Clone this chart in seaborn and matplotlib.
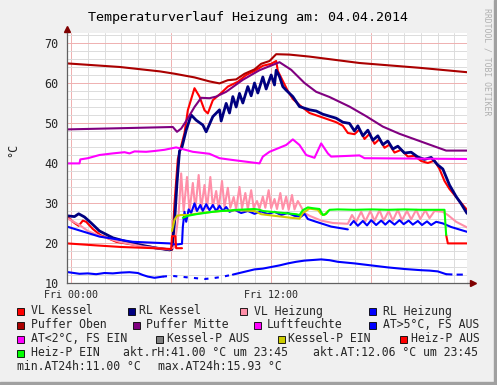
import matplotlib
matplotlib.use("Agg")
import matplotlib.pyplot as plt
from matplotlib.patches import Rectangle
import seaborn as sns

# hours since Fri 00:00 and temperatures
vl_kessel_h = [-0.25, 0.2, 0.45, 0.7, 0.9, 1.3, 1.75, 2.7, 4.0, 4.7, 5.9, 6.05, 6.2, 6.4, 6.8, 7.0, 7.4, 7.7, 8.0,
               8.2, 8.5, 9.0, 9.4, 10.0, 10.5, 11.0, 11.5, 12.0, 12.3, 12.4, 12.7, 13.0, 13.3, 13.7, 14.3, 15.0,
               15.9, 16.3, 16.6, 17.0, 17.3, 17.6, 17.9, 18.2, 18.5, 18.8, 19.1, 19.4, 19.8, 20.2, 20.6, 21.0,
               21.4, 21.8, 22.1, 22.4, 22.7, 23.1, 23.4, 23.75]
vl_kessel = [26.6, 25.0, 24.3, 25.6, 25.3, 23.5, 22.0, 20.3, 19.4, 19.1, 18.2, 18.3, 30.0, 41.0, 47.5, 53.2, 58.7,
             56.6, 53.2, 52.4, 55.7, 57.5, 59.1, 60.3, 62.0, 63.0, 64.3, 64.8, 65.5, 63.0, 60.5, 58.0, 56.0, 54.5,
             52.5, 51.5, 50.2, 49.3, 47.5, 47.2, 48.4, 46.0, 47.3, 44.8, 46.0, 43.8, 44.6, 42.6, 43.3, 41.6, 41.8,
             40.5, 40.0, 40.6, 38.5, 35.5, 33.5, 31.5, 30.0, 28.3]

rl_kessel_h = [-0.25, 0.2, 0.45, 0.8, 1.2, 1.7, 2.5, 3.7, 5.0, 5.9, 6.05, 6.2, 6.35, 6.5, 6.65, 6.9, 7.2, 7.5, 7.9,
               8.1, 8.5, 8.9, 9.0, 9.3, 9.5, 9.7, 9.9, 10.1, 10.3, 10.6, 10.8, 11.0, 11.2, 11.5, 11.7, 12.0, 12.2,
               12.3, 12.5, 12.7, 12.9, 13.3, 13.7, 14.3, 14.7, 15.1, 15.9, 16.3, 16.7, 17.0, 17.2, 17.5, 17.8,
               18.1, 18.4, 18.7, 19.0, 19.3, 19.6, 20.0, 20.4, 20.8, 21.2, 21.6, 22.0, 22.3, 22.7, 23.1, 23.4, 23.75]
rl_kessel = [26.8, 26.6, 27.3, 26.5, 25.0, 23.0, 21.3, 19.9, 18.8, 18.3, 18.5, 25.0, 35.0, 43.0, 44.0, 48.2, 52.0,
             50.7, 49.5, 47.8, 51.6, 53.3, 50.5, 54.9, 52.5, 56.6, 54.0, 57.4, 55.0, 59.1, 56.8, 60.0, 57.5, 61.5,
             58.5, 62.0, 59.5, 63.2, 61.6, 59.1, 58.2, 56.6, 54.1, 53.3, 53.0, 52.2, 51.2, 50.2, 49.9, 48.0, 49.3,
             46.8, 48.2, 45.7, 46.8, 44.6, 45.5, 43.5, 44.2, 42.5, 42.7, 41.5, 40.9, 41.4, 39.5, 38.5, 34.5, 31.6,
             29.8, 27.4]

vl_heizung_h = [-0.25, 0.5, 1.0, 1.7, 2.9, 4.3, 5.9, 6.2, 6.45, 6.6, 6.75, 6.95, 7.1, 7.3, 7.45, 7.65, 7.8, 8.0,
                8.15, 8.35, 8.5, 8.7, 8.85, 9.05, 9.2, 9.4, 9.55, 9.75, 9.9, 10.1, 10.25, 10.45, 10.6, 10.8, 10.95,
                11.15, 11.3, 11.5, 11.65, 11.85, 12.0, 12.2, 12.35, 12.55, 12.7, 12.9, 13.05, 13.25, 13.4, 13.6,
                13.8, 14.0, 14.3, 15.0, 15.7, 16.6, 16.85, 17.1, 17.4, 17.65, 17.95, 18.2, 18.5, 18.75, 19.05, 19.3,
                19.6, 19.85, 20.15, 20.4, 20.7, 20.95, 21.25, 21.5, 21.8, 22.3, 22.6, 23.1, 23.75]
vl_heizung = [26.2, 24.5, 23.0, 21.8, 20.3, 19.1, 18.4, 19.0, 27.5, 37.4, 28.0, 36.5, 27.8, 35.0, 28.3, 37.0, 28.5,
              34.5, 28.6, 36.5, 29.0, 33.0, 28.5, 35.5, 29.0, 33.8, 28.8, 31.5, 28.5, 34.0, 28.7, 32.5, 28.5, 33.2,
              28.8, 30.5, 28.6, 31.6, 28.8, 33.2, 28.7, 31.0, 28.5, 32.5, 28.5, 31.6, 28.3, 32.0, 28.4, 30.5, 29.0,
              27.5, 26.8, 25.6, 25.0, 24.8, 27.0, 25.3, 27.8, 25.4, 28.0, 25.5, 28.2, 25.6, 28.0, 25.6, 28.3, 25.7,
              28.0, 25.9, 28.3, 26.0, 28.2, 26.2, 28.0, 27.8, 27.0, 25.3, 23.9]

rl_heizung_h = [-0.25, 1.0, 1.7, 3.7, 5.9, 6.3, 6.65, 6.7, 6.8, 6.9, 7.05, 7.2, 7.4, 7.55, 7.75, 7.9, 8.1, 8.3, 8.5,
                8.7, 8.9, 9.1, 9.3, 9.5, 9.8, 10.2, 10.6, 11.0, 11.4, 11.8, 12.2, 12.6, 13.0, 13.4, 13.8, 14.0,
                14.2, 14.7, 15.6, 16.6]
rl_heizung = [24.1, 22.5, 21.6, 20.3, 19.9, 19.6, 19.8, 24.0, 27.8, 25.3, 28.4, 27.5, 29.9, 28.0, 29.5, 28.0, 29.7,
              28.2, 29.5, 28.0, 29.3, 28.0, 29.0, 27.8, 28.3, 27.5, 28.0, 27.3, 27.9, 27.2, 27.8, 27.0, 27.5, 26.8,
              26.6, 27.3, 26.0, 25.3, 24.1, 23.4]
rl_heizung2_h = [16.75, 16.95, 17.2, 17.5, 17.75, 18.0, 18.3, 18.6, 18.85, 19.1, 19.4, 19.7, 19.95, 20.25, 20.5,
                 20.8, 21.05, 21.35, 21.6, 21.9, 22.3, 22.8, 23.75]
rl_heizung2 = [24.5, 25.5, 24.3, 25.5, 24.4, 25.7, 24.5, 25.6, 24.6, 25.6, 24.6, 25.7, 24.7, 25.6, 24.6, 25.5, 24.5,
               25.4, 24.5, 25.3, 24.9, 24.0, 22.8]

puffer_oben_h = [-0.25, 2.93, 5.33, 6.23, 7.4, 8.3, 8.9, 9.4, 9.9, 10.4, 11.0, 11.4, 11.9, 12.3, 13.1, 14.3, 17.3,
                 20.9, 23.75]
puffer_oben = [64.9, 64.0, 62.9, 62.3, 61.4, 60.4, 59.9, 60.7, 60.9, 62.3, 63.4, 64.8, 65.5, 67.2, 67.1, 66.6, 65.0,
               63.8, 62.7]

puffer_mitte_h = [-0.25, 3.0, 6.1, 6.35, 6.6, 6.9, 7.4, 7.8, 8.3, 8.7, 9.3, 10.3, 11.3, 12.5, 13.2, 14.0, 14.7,
                  15.5, 16.7, 17.7, 18.7, 19.7, 20.7, 21.7, 22.5, 23.75]
puffer_mitte = [48.4, 48.7, 49.0, 47.8, 48.6, 50.5, 54.0, 56.3, 56.2, 56.6, 57.8, 60.8, 63.2, 65.2, 63.3, 60.0, 57.8,
                56.5, 54.1, 51.7, 49.1, 47.3, 45.8, 44.3, 43.1, 43.1]

luft_h = [-0.25, 0.5, 0.55, 1.0, 1.7, 2.5, 3.2, 3.5, 3.8, 4.5, 5.0, 5.6, 6.3, 7.3, 8.3, 8.9, 9.6, 11.3, 11.5, 11.9,
          12.9, 13.3, 13.7, 14.1, 14.6, 15.0, 15.4, 15.6, 17.3, 17.6, 23.75]
luft = [39.9, 39.9, 40.9, 41.2, 42.0, 42.4, 42.7, 42.4, 42.9, 42.8, 43.0, 43.3, 43.9, 42.8, 42.3, 41.2, 40.8, 39.9,
        41.6, 42.8, 44.5, 45.9, 44.5, 42.0, 41.3, 44.9, 42.4, 41.6, 41.9, 41.2, 41.0]

at_h = [-0.25, 0.5, 1.0, 1.5, 2.0, 2.5, 3.0, 3.5, 4.0, 4.3, 4.6, 5.0, 5.5, 6.0, 6.5, 7.0, 7.5, 8.0, 8.5, 9.0, 9.7,
        10.0, 10.5, 11.0, 11.5, 12.0, 12.5, 13.0, 13.5, 14.0, 15.0, 15.5, 16.0, 17.0, 18.0, 19.0, 20.0, 21.0, 21.5,
        22.0, 22.5, 23.0, 23.75]
at = [12.75, 12.3, 12.4, 12.2, 12.5, 12.4, 12.6, 12.7, 12.5, 12.0, 11.6, 11.3, 11.6, 11.8, 11.6, 11.4, 11.2, 11.0,
      11.2, 11.5, 12.1, 12.4, 12.9, 13.4, 13.6, 14.0, 14.4, 14.9, 15.3, 15.6, 15.9, 15.7, 15.3, 14.9, 14.4, 13.9,
      13.5, 13.2, 13.1, 12.9, 12.2, 12.1, 12.1]

kessel_ein_h = [6.05, 6.2, 6.35, 6.6, 7.0, 8.0, 9.0, 10.0, 11.0, 11.4, 12.0, 12.6, 13.2, 13.7, 13.9, 14.3, 14.8,
                15.0, 15.2, 15.4]
kessel_ein = [23.0, 25.8, 26.8, 27.0, 27.0, 27.6, 28.0, 28.2, 28.0, 27.2, 26.9, 26.6, 26.3, 26.1, 27.5, 28.6, 28.3,
              27.2, 27.0, 28.0]

heiz_aus_h = [-0.25, 1.5, 3.0, 5.0, 6.0, 6.05, 6.25, 6.3, 6.65]
heiz_aus = [19.9, 19.4, 19.0, 18.7, 18.5, 21.7, 21.7, 18.7, 18.7]
heiz_aus2_h = [22.5, 22.6, 23.75]
heiz_aus2 = [22.0, 19.9, 19.9]

heiz_ein_h = [6.7, 7.0, 7.5, 8.0, 8.5, 9.0, 9.5, 10.0, 10.5, 11.0, 11.3, 11.5, 12.0, 12.5, 13.0, 13.5, 13.7, 13.9,
              14.2, 14.5, 14.9, 15.1, 15.3, 15.5, 16.0, 17.0, 18.0, 19.0, 20.0, 21.0, 22.0, 22.4, 22.45, 22.5]
heiz_ein = [26.3, 26.8, 27.2, 27.5, 27.8, 28.0, 28.1, 28.3, 28.4, 28.5, 28.3, 28.0, 27.8, 27.6, 27.4, 27.2, 27.0,
            28.2, 28.9, 28.7, 28.5, 27.0, 27.3, 28.3, 28.4, 28.3, 28.4, 28.3, 28.4, 28.3, 28.3, 28.3, 25.0, 22.0]

legend_rows = [
    [("VL Kessel", "#ff0000", 17, 31), ("RL Kessel", "#000080", 128, 139),
     ("VL Heizung", "#ff8fa8", 240, 254), ("RL Heizung", "#0000ff", 369, 383)],
    [("Puffer Oben", "#aa0000", 17, 31), ("Puffer Mitte", "#800080", 133, 146),
     ("Luftfeuchte", "#ff00ff", 254, 267), ("AT>5°C, FS AUS", "#0000ff", 369, 383)],
    [("AT<2°C, FS EIN", "#ff00ff", 17, 31), ("Kessel-P AUS", "#808080", 156, 167),
     ("Kessel-P EIN", "#cccc00", 278, 288), ("Heiz-P AUS", "#ff0000", 400, 411)],
    [("Heiz-P EIN", "#00ff00", 17, 31)],
]
info_texts = [("akt.rH:41.00 °C um 23:45", 123, 353), ("akt.AT:12.06 °C um 23:45", 313, 353),
              ("min.AT24h:11.00 °C", 17, 367), ("max.AT24h:15.93 °C", 158, 367)]
row_y = [311, 325, 339, 353]

W, H = 497, 385
sns.set_style("white")
plt.rcParams["font.family"] = ["DejaVu Sans Mono", "DejaVu Sans"]

fig = plt.figure(figsize=(W / 100, H / 100), dpi=100)
fig.patch.set_facecolor("#f0f0f0")


def fx(px):
    return px / W


def fy(py):
    return 1 - py / H


#border of the canvas
fig.patches.append(Rectangle((0, 0), 1, fy(382), transform=fig.transFigure, color="#a0a0a0"))
fig.patches.append(Rectangle((fx(494), 0), 3 / W, 1, transform=fig.transFigure, color="#a0a0a0"))

ax = fig.add_axes([fx(67), fy(283), 400 / W, 250 / H])
ax.set_facecolor("white")


def draw(h, v, color, lw=1.5, **kw):
    sns.lineplot(x=h, y=v, ax=ax, color=color, linewidth=lw, sort=False, estimator=None,
                 legend=False, **kw)


draw(vl_kessel_h, vl_kessel, "#ff0000")
draw(rl_kessel_h, rl_kessel, "#000080", lw=2.0)
draw(vl_heizung_h, vl_heizung, "#ff8fa8")
draw(rl_heizung_h, rl_heizung, "#0000ff")
draw(rl_heizung2_h, rl_heizung2, "#0000ff")
draw(puffer_oben_h, puffer_oben, "#aa0000")
draw(puffer_mitte_h, puffer_mitte, "#800080")
draw(luft_h, luft, "#ff00ff")
#outside temperature: solid where FS state is known, dashed elsewhere
draw(at_h[:13], at[:13], "#0000ff")
draw(at_h[12:21], at[12:21], "#0000ff", linestyle=(0, (2, 3)))
draw(at_h[20:41], at[20:41], "#0000ff")
draw(at_h[40:], at[40:], "#0000ff", linestyle=(0, (3, 2)))
draw(kessel_ein_h, kessel_ein, "#cccc00")
draw(heiz_aus_h, heiz_aus, "#ff0000")
draw(heiz_aus2_h, heiz_aus2, "#ff0000")
draw(heiz_ein_h, heiz_ein, "#00ff00")

ax.set_xlim(-0.25, 23.75)
ax.set_ylim(10, 72.5)
ax.set_xticks([0, 6, 12, 18])
ax.set_xticklabels(["Fri 00:00", "", "Fri 12:00", ""])
ax.set_xticks(range(0, 24), minor=True)
ax.set_yticks(range(10, 71, 10))
ax.set_yticks(range(10, 73, 2), minor=True)
ax.set_axisbelow(True)
ax.grid(which="minor", color="#dcdcdc", linewidth=0.7)
ax.grid(which="major", color="#efb0b0", linewidth=0.7)
ax.tick_params(axis="x", which="major", length=3, width=0.7, color="#606060", labelsize=7.2, pad=2)
ax.tick_params(axis="x", which="minor", length=0)
ax.tick_params(axis="y", which="both", length=0, labelsize=8.5, pad=6)
ax.set_xlabel("")
ax.set_ylabel("")
for side in ["top", "right"]:
    ax.spines[side].set_visible(False)
for side in ["left", "bottom"]:
    ax.spines[side].set_color("#606060")
    ax.spines[side].set_linewidth(0.9)

#axis arrows
ax.plot([23.75, 24.1], [10, 10], color="#606060", lw=0.9, clip_on=False)
ax.plot([24.1], [10], marker=">", color="#800000", markersize=4, clip_on=False)
ax.plot([-0.25, -0.25], [72.5, 73.5], color="#606060", lw=0.9, clip_on=False)
ax.plot([-0.25], [73.6], marker="^", color="#800000", markersize=4, clip_on=False)

fig.text(fx(248), fy(17), "Temperaturverlauf Heizung am: 04.04.2014", ha="center", va="center",
         fontsize=9.6, color="#000000")
fig.text(fx(13), fy(150), "°C", rotation=90, ha="center", va="center", fontsize=8.5)
fig.text(fx(487), fy(62), "RRDTOOL / TOBI OETIKER", rotation=270, ha="center", va="center",
         fontsize=5.9, color="#b0b0b0")

#legend
for row, y in zip(legend_rows, row_y):
    for label, color, sx, tx in row:
        fig.patches.append(Rectangle((fx(sx), fy(y + 3.5)), 7 / W, 7 / H, transform=fig.transFigure,
                                     facecolor=color, edgecolor="black", linewidth=0.6))
        fig.text(fx(tx), fy(y), label, ha="left", va="center", fontsize=8.3)
for label, tx, y in info_texts:
    fig.text(fx(tx), fy(y), label, ha="left", va="center", fontsize=8.3)

fig.savefig("out.png", dpi=100, facecolor=fig.get_facecolor())
